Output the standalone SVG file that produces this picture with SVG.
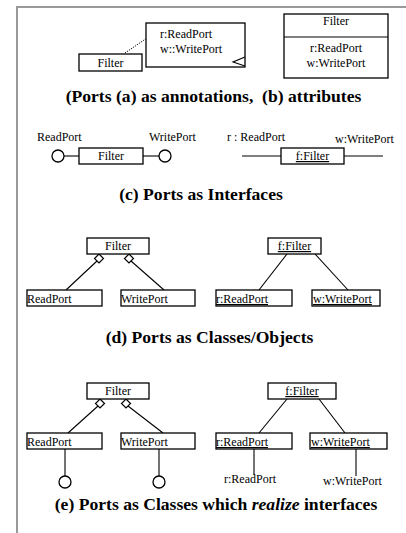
<svg xmlns="http://www.w3.org/2000/svg" width="406" height="533" viewBox="0 0 406 533" font-family="'Liberation Serif', 'Times New Roman', serif">
<style>
text{font-family:'Liberation Serif','Times New Roman',serif;font-size:12px;fill:#000}
.cap{font-size:17.6px;font-weight:bold}
.c{text-anchor:middle}
.u{text-decoration:underline}
.box{fill:#fff;stroke:#000;stroke-width:1.3}
.ln{stroke:#000;stroke-width:1.1;fill:none}
.dia{fill:#fff;stroke:#000;stroke-width:1.2}
.frame{stroke:#999;stroke-width:2;fill:none}
</style>
<defs>
<path id="diamond" class="dia" d="M0,0 L4.5,4.5 L0,9 L-4.5,4.5 Z"/>
</defs>
<rect width="406" height="533" fill="#fff"/>
<path class="frame" d="M17,533 V7 H406"/>

<g id="connectors">
<line x1="125" y1="53" x2="147" y2="38" stroke="#000" stroke-width="1" stroke-dasharray="1.2,1.2"/>
<line class="ln" x1="64" y1="156" x2="79" y2="156"/>
<line class="ln" x1="143" y1="156" x2="159" y2="156"/>
<line class="ln" x1="242" y1="156" x2="281" y2="156"/>
<line class="ln" x1="344" y1="156" x2="383" y2="156"/>
<line class="ln" x1="97" y1="261" x2="66" y2="290"/>
<line class="ln" x1="131" y1="261" x2="164" y2="290"/>
<use href="#diamond" x="99" y="254"/>
<use href="#diamond" x="129" y="254"/>
<line class="ln" x1="287" y1="254" x2="259" y2="290"/>
<line class="ln" x1="315" y1="254" x2="348" y2="290"/>
<line class="ln" x1="98" y1="406" x2="68" y2="433"/>
<line class="ln" x1="128" y1="406" x2="163" y2="433"/>
<use href="#diamond" x="100" y="399"/>
<use href="#diamond" x="126" y="399"/>
<line class="ln" x1="287" y1="399" x2="259" y2="433"/>
<line class="ln" x1="319" y1="399" x2="345" y2="433"/>
<line class="ln" x1="65" y1="449" x2="65" y2="476"/>
<line class="ln" x1="159" y1="449" x2="159" y2="476"/>
<line class="ln" x1="254" y1="449" x2="254" y2="475"/>
<line class="ln" x1="356" y1="449" x2="356" y2="476"/>
</g>

<g id="a-filter">
<rect class="box" x="79" y="54" width="63" height="17"/>
<text class="c" x="110.5" y="67">Filter</text>
</g>
<g id="a-note">
<rect class="box" x="146" y="23" width="99" height="44"/>
<polyline class="ln" points="245,57 233,62 245,66"/>
<text x="160" y="38">r:ReadPort</text>
<text x="160" y="53">w::WritePort</text>
</g>
<g id="b-filter">
<rect class="box" x="284" y="14" width="104" height="64"/>
<line class="ln" x1="284" y1="37" x2="388" y2="37"/>
<text class="c" x="336" y="25">Filter</text>
<text class="c" x="336" y="52">r:ReadPort</text>
<text class="c" x="336" y="67">w:WritePort</text>
</g>
<text class="cap c" x="213.5" y="102" xml:space="preserve">(Ports (a) as annotations,  (b) attributes</text>

<g id="c-filter">
<rect class="box" x="79" y="148" width="64" height="16"/>
<text class="c" x="111" y="160">Filter</text>
</g>
<g id="c-readport">
<circle class="box" cx="58" cy="156" r="6"/>
<text x="37" y="141">ReadPort</text>
</g>
<g id="c-writeport">
<circle class="box" cx="165" cy="156" r="6"/>
<text x="149" y="141">WritePort</text>
</g>
<g id="c-ffilter">
<rect class="box" x="281" y="148" width="63" height="16"/>
<text class="c u" x="312.5" y="160">f:Filter</text>
</g>
<text x="227" y="141">r : ReadPort</text>
<text x="335" y="143">w:WritePort</text>
<text class="cap c" x="201" y="200">(c) Ports as Interfaces</text>

<g id="d-filter">
<rect class="box" x="87" y="238" width="62" height="16"/>
<text class="c" x="118" y="250">Filter</text>
</g>
<g id="d-readport">
<rect class="box" x="27" y="290" width="75" height="16"/>
<text x="27" y="303">ReadPort</text>
</g>
<g id="d-writeport">
<rect class="box" x="121" y="290" width="74" height="16"/>
<text x="121" y="303">WritePort</text>
</g>
<g id="d-ffilter">
<rect class="box" x="268" y="238" width="53" height="16"/>
<text class="c u" x="294.5" y="250">f:Filter</text>
</g>
<g id="d-r">
<rect class="box" x="216" y="290" width="76" height="16"/>
<text class="u" x="216" y="303">r:ReadPort</text>
</g>
<g id="d-w">
<rect class="box" x="312" y="290" width="68" height="16"/>
<text class="u" x="313" y="303">w:WritePort</text>
</g>
<text class="cap c" x="209.5" y="343">(d) Ports as Classes/Objects</text>

<g id="e-filter">
<rect class="box" x="87" y="383" width="62" height="16"/>
<text class="c" x="118" y="395">Filter</text>
</g>
<g id="e-readport">
<rect class="box" x="27" y="433" width="75" height="16"/>
<text x="27" y="446">ReadPort</text>
<circle class="box" cx="65" cy="482" r="6"/>
</g>
<g id="e-writeport">
<rect class="box" x="121" y="433" width="74" height="16"/>
<text x="121" y="446">WritePort</text>
<circle class="box" cx="159" cy="482" r="6"/>
</g>
<g id="e-ffilter">
<rect class="box" x="268" y="383" width="68" height="16"/>
<text class="c u" x="302" y="395">f:Filter</text>
</g>
<g id="e-r">
<rect class="box" x="216" y="433" width="76" height="16"/>
<text class="u" x="216" y="446">r:ReadPort</text>
<text x="224" y="483">r:ReadPort</text>
</g>
<g id="e-w">
<rect class="box" x="310" y="433" width="77" height="16"/>
<text class="u" x="311" y="446">w:WritePort</text>
<text x="323" y="485">w:WritePort</text>
</g>
<text class="cap c" x="216" y="510">(e) Ports as Classes which <tspan font-style="italic">realize</tspan> interfaces</text>
</svg>
